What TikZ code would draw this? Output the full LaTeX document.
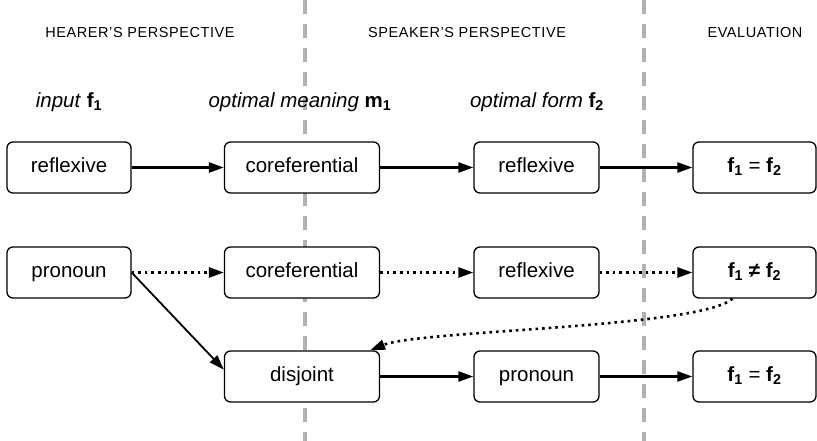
\documentclass[tikz,border=0pt]{standalone}
\usepackage{fontspec}
\setmainfont{Liberation Sans}
\newfontfamily\headfont[LetterSpace=4]{Liberation Sans}
\usetikzlibrary{arrows.meta}
\newcommand{\bsub}[2]{\textup{\textbf{#1}\textsubscript{\textbf{#2}}}}
\tikzset{
  box/.style={draw, line width=1.3pt, rounded corners=6pt, fill=white, minimum height=51pt, inner sep=0pt, text height=14.5pt, text depth=4pt, font=\fontsize{20.5}{24}\selectfont},
  head/.style={font=\headfont\fontsize{14.5}{16}\selectfont},
  lbl/.style={font=\fontsize{20.5}{24}\selectfont\itshape},
  sep/.style={line width=3.5pt, gray!60, dash pattern=on 14pt off 10pt},
  go/.style={-{Triangle[length=15pt,width=10pt]}, line width=2.5pt},
  maybe/.style={-{Triangle[length=15pt,width=10pt]}, line width=2.6pt, dash pattern=on 2.6pt off 4pt}
}
\begin{document}
\begin{tikzpicture}[x=1pt, y=-1pt]
    \useasboundingbox (0,0) rectangle (817,441);
    \draw[sep] (305,0) -- (305,441);
    \draw[sep] (644,0) -- (644,441);
    % headers
    \node[head] (hh) at (140,33) {HEARER’S PERSPECTIVE};
    \node[head] (sh) at (467,33) {SPEAKER’S PERSPECTIVE};
    \node[head] (eh) at (755,33) {EVALUATION};
    \node[lbl] (l1) at (69,102) {input \bsub{f}{1}};
    \node[lbl] (l2) at (300,102) {optimal meaning \bsub{m}{1}};
    \node[lbl] (l3) at (537,102) {optimal form \bsub{f}{2}};
    % boxes
    \node[box, minimum width=124pt] (a1) at (69,167.5) {reflexive};
    \node[box, minimum width=155pt] (b1) at (302,167.5) {coreferential};
    \node[box, minimum width=125pt] (c1) at (536.5,167.5) {reflexive};
    \node[box, minimum width=123pt] (d1) at (754.5,167.5) {\bsub{f}{1} = \bsub{f}{2}};
    \node[box, minimum width=124pt] (a2) at (69,272.5) {pronoun};
    \node[box, minimum width=155pt] (b2) at (302,272.5) {coreferential};
    \node[box, minimum width=125pt] (c2) at (536.5,272.5) {reflexive};
    \node[box, minimum width=123pt] (d2) at (754.5,272.5) {\bsub{f}{1} \textbf{≠} \bsub{f}{2}};
    \node[box, minimum width=155pt] (b3) at (302,376.5) {disjoint};
    \node[box, minimum width=125pt] (c3) at (536.5,376.5) {pronoun};
    \node[box, minimum width=123pt] (d3) at (754.5,376.5) {\bsub{f}{1} = \bsub{f}{2}};
    % arrows
    \draw[go] (a1) -- (b1);
    \draw[go] (b1) -- (c1);
    \draw[go] (c1) -- (d1);
    \draw[maybe] (a2) -- (b2);
    \draw[maybe] (b2) -- (c2);
    \draw[maybe] (c2) -- (d2);
    \draw[go, line width=1.8pt] (a2.east) -- (b3.175);
    \draw[maybe] (d2.230) .. controls (700,328) and (420,330) .. (b3.21);
    \draw[go] (b3) -- (c3);
    \draw[go] (c3) -- (d3);
\end{tikzpicture}
\end{document}
